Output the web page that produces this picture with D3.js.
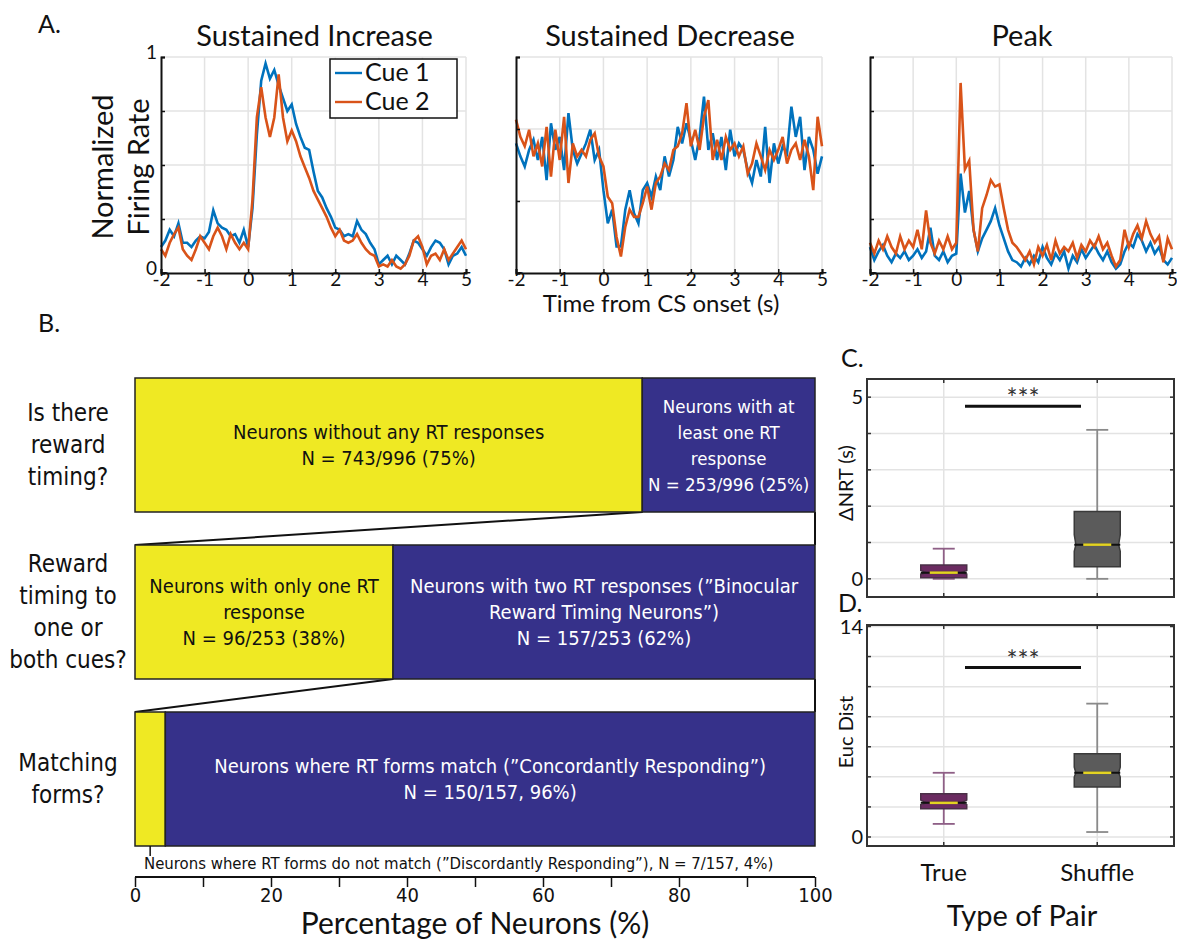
<!DOCTYPE html>
<html lang="en">
<head>
  <meta charset="UTF-8">
  <title>RT neurons figure</title>
  <script src="https://d3js.org/d3.v7.min.js"></script>
  <style>
    body { margin: 0; background: #fff; }
    svg text { font-family: Lato, "Open Sans", sans-serif; fill: #111; }
    svg text.narrow { font-family: "Liberation Sans Narrow", "DejaVu Sans Condensed", sans-serif; }
  </style>
</head>
<body>
<svg width="1177" height="939"></svg>
<script>
// ---------- data ----------
var times = d3.range(-2, 5.001, 0.1);
var xTicksA = [-2, -1, 0, 1, 2, 3, 4, 5];
var seriesNames = ["Cue 1", "Cue 2"];
var plotTitles = ["Sustained Increase", "Sustained Decrease", "Peak"];

var incCue1 = [0.12,0.15,0.20,0.17,0.23,0.14,0.14,0.12,0.15,0.17,0.16,0.19,0.29,0.23,0.21,0.20,0.17,0.18,0.14,0.20,
  0.12,0.30,0.64,0.89,0.97,0.90,0.94,0.87,0.81,0.75,0.78,0.69,0.63,0.58,0.57,0.47,0.38,0.35,0.30,0.26,
  0.21,0.20,0.17,0.18,0.17,0.24,0.20,0.18,0.14,0.11,0.04,0.06,0.08,0.04,0.08,0.06,0.04,0.09,0.15,0.14,
  0.11,0.08,0.12,0.15,0.14,0.11,0.04,0.08,0.09,0.12,0.08];
var incCue2 = [0.11,0.08,0.14,0.18,0.21,0.11,0.08,0.06,0.11,0.17,0.14,0.11,0.17,0.21,0.17,0.11,0.18,0.14,0.11,0.14,
  0.11,0.34,0.72,0.86,0.72,0.63,0.72,0.92,0.72,0.61,0.66,0.61,0.54,0.49,0.44,0.38,0.34,0.30,0.26,0.21,
  0.17,0.20,0.15,0.14,0.15,0.18,0.14,0.11,0.09,0.08,0.03,0.04,0.03,0.06,0.03,0.02,0.04,0.08,0.15,0.17,
  0.12,0.04,0.08,0.09,0.06,0.11,0.06,0.09,0.12,0.15,0.11];

var decCue1 = [1.80,1.62,1.48,1.71,1.85,1.57,1.89,1.29,2.08,1.71,1.89,1.43,2.22,1.71,1.52,1.66,1.80,1.99,1.57,1.71,
  1.15,0.69,0.88,0.37,0.37,0.88,1.15,0.83,0.69,1.15,1.25,1.06,1.34,1.15,1.62,1.34,1.57,2.03,1.80,2.08,
  1.85,1.57,1.89,2.45,1.71,1.94,1.57,1.89,1.43,1.99,1.62,1.80,1.71,1.43,1.25,1.57,1.34,2.03,1.25,1.80,
  1.52,1.76,1.66,2.31,1.89,2.17,1.43,1.89,1.71,1.38,1.62];
var decCue2 = [2.13,1.89,1.76,1.99,1.62,1.80,1.48,2.03,1.34,1.99,1.57,2.17,1.25,1.80,1.62,1.71,1.62,1.85,1.94,1.62,
  1.48,1.06,0.97,0.50,0.23,0.64,0.88,0.78,0.78,0.97,1.20,0.88,1.25,1.34,1.52,1.43,1.71,1.76,1.94,2.36,
  1.76,1.99,1.71,2.17,2.40,1.57,1.85,1.57,1.89,1.71,1.80,1.62,1.76,1.38,1.52,1.80,1.62,1.43,1.71,1.57,
  1.71,1.89,1.52,1.71,1.80,1.57,1.85,1.62,1.15,2.17,1.76];

var peakCue1 = [0.12,0.06,0.10,0.13,0.08,0.05,0.09,0.07,0.10,0.06,0.08,0.11,0.07,0.10,0.21,0.08,0.06,0.10,0.05,0.08,
  0.09,0.46,0.28,0.38,0.20,0.10,0.16,0.20,0.24,0.30,0.22,0.16,0.10,0.06,0.05,0.03,0.07,0.04,0.08,0.05,
  0.12,0.07,0.04,0.09,0.06,0.10,0.02,0.08,0.05,0.11,0.07,0.10,0.13,0.09,0.06,0.10,0.05,0.02,0.04,0.10,
  0.14,0.12,0.18,0.15,0.10,0.14,0.09,0.12,0.06,0.04,0.07];
var peakCue2 = [0.14,0.09,0.15,0.11,0.17,0.12,0.09,0.17,0.11,0.15,0.12,0.20,0.11,0.29,0.14,0.09,0.15,0.11,0.17,0.11,
  0.14,0.88,0.48,0.52,0.20,0.10,0.30,0.36,0.43,0.40,0.41,0.30,0.20,0.14,0.12,0.09,0.06,0.10,0.04,0.12,
  0.08,0.13,0.06,0.15,0.09,0.12,0.10,0.14,0.07,0.13,0.10,0.15,0.12,0.17,0.11,0.14,0.08,0.03,0.06,0.20,
  0.12,0.18,0.22,0.16,0.24,0.18,0.14,0.17,0.05,0.16,0.11];

// panel B
var rowLabels = [["Is there", "reward", "timing?"], ["Reward", "timing to", "one or", "both cues?"], ["Matching", "forms?"]];
var yellowPct = [743 / 996 * 100, 96 / 253 * 100, 7 / 157 * 100];
var yellowText = [["Neurons without any RT responses", "N = 743/996 (75%)"], ["Neurons with only one RT", "response", "N = 96/253 (38%)"], []];
var blueText = [["Neurons with at", "least one RT", "response", "N = 253/996 (25%)"],
  ["Neurons with two RT responses (\u201DBinocular", "Reward Timing Neurons\u201D)", "N = 157/253 (62%)"],
  ["Neurons where RT forms match (\u201DConcordantly Responding\u201D)", "N = 150/157, 96%)"]];
var discordantNote = "Neurons where RT forms do not match (\u201DDiscordantly Responding\u201D), N = 7/157, 4%)";
var pctTicks = [0, 20, 40, 60, 80, 100];

// panels C and D (box stats: whiskerLo, q1, median, q3, whiskerHi)
var pairTypes = ["True", "Shuffle"];
var nrtBoxes = [[0, 0.03, 0.17, 0.38, 0.83], [0, 0.33, 0.94, 1.85, 4.1]];
var eucBoxes = [[0.87, 1.87, 2.27, 2.87, 4.27], [0.33, 3.33, 4.27, 5.53, 8.87]];
var nrtSig = 4.75, eucSig = 11.27;

// ---------- drawing ----------
var svg = d3.select("svg");
var blue = "#0072BD", orange = "#D95319", grid = "#e3e3e3";

svg.append("text").attr("x", 38).attr("y", 33).attr("font-size", 25).text("A.");
svg.append("text").attr("x", 38).attr("y", 332).attr("font-size", 25).text("B.");
svg.append("text").attr("x", 841).attr("y", 367).attr("font-size", 25).text("C.");
svg.append("text").attr("x", 838).attr("y", 612).attr("font-size", 25).text("D.");

// ----- panel A -----
var aPlots = [
  { left: 161, right: 466, dom: [0, 1], yt: [0, 0.25, 0.5, 0.75, 1], d1: incCue1, d2: incCue2, labels: true },
  { left: 516, right: 822, dom: [0, 3], yt: [0, 1, 2, 3], d1: decCue1, d2: decCue2, labels: false },
  { left: 870, right: 1172, dom: [0, 1], yt: [0, 0.25, 0.5, 0.75, 1], d1: peakCue1, d2: peakCue2, labels: false }
];
var aTop = 57, aBottom = 273;

aPlots.forEach(function(p, i) {
  var x = d3.scaleLinear().domain([-2, 5]).range([p.left, p.right]);
  var y = d3.scaleLinear().domain(p.dom).range([aBottom, aTop]);
  var g = svg.append("g");

  g.selectAll(".hg").data(p.yt.slice(1)).enter().append("line")
    .attr("x1", p.left).attr("x2", p.right)
    .attr("y1", function(d) { return y(d); }).attr("y2", function(d) { return y(d); })
    .attr("stroke", grid).attr("stroke-width", 1.5);
  g.selectAll(".vg").data(xTicksA.slice(1)).enter().append("line")
    .attr("x1", function(d) { return x(d); }).attr("x2", function(d) { return x(d); })
    .attr("y1", aTop).attr("y2", aBottom)
    .attr("stroke", grid).attr("stroke-width", 1.5);

  var line = d3.line()
    .x(function(d, j) { return x(times[j]); })
    .y(function(d) { return y(d); });
  g.append("path").datum(p.d1).attr("d", line).attr("fill", "none").attr("stroke", blue).attr("stroke-width", 2.6);
  g.append("path").datum(p.d2).attr("d", line).attr("fill", "none").attr("stroke", orange).attr("stroke-width", 2.6);

  var xa = g.append("g").attr("transform", "translate(0," + aBottom + ")")
    .call(d3.axisBottom(x).tickValues(xTicksA).tickSize(-4).tickPadding(3)
      .tickFormat(function(d) { return String(d); }));
  var ya = g.append("g").attr("transform", "translate(" + p.left + ",0)")
    .call(d3.axisLeft(y).tickValues(p.yt).tickSize(-4).tickPadding(4)
      .tickFormat(function(d) { return p.labels && (d === 0 || d === 1) ? d : ""; }));
  [xa, ya].forEach(function(a) {
    a.select(".domain").attr("stroke", "#111").attr("stroke-width", 2);
    a.selectAll(".tick line").attr("stroke", "#111").attr("stroke-width", 1.5);
    a.selectAll("text").attr("font-size", 19).attr("font-family", "Lato, sans-serif").attr("fill", "#111");
  });
  xa.selectAll("text").attr("dy", "0.55em");
  ya.selectAll("text").attr("dy", "0.1em");

  svg.append("text").attr("x", (p.left + p.right) / 2 + 1).attr("y", 46)
    .attr("text-anchor", "middle").attr("font-size", 29).text(plotTitles[i]);
});

svg.append("text").attr("transform", "translate(113,167) rotate(-90)")
  .attr("text-anchor", "middle").attr("font-size", 29).text("Normalized");
svg.append("text").attr("transform", "translate(149,167) rotate(-90)")
  .attr("text-anchor", "middle").attr("font-size", 29).text("Firing Rate");
svg.append("text").attr("x", 661).attr("y", 312)
  .attr("text-anchor", "middle").attr("font-size", 24).text("Time from CS onset (s)");

// legend
var leg = svg.append("g");
leg.append("rect").attr("x", 330).attr("y", 59).attr("width", 127).attr("height", 59)
  .attr("fill", "#fff").attr("stroke", "#111").attr("stroke-width", 1.5);
seriesNames.forEach(function(n, i) {
  var ly = 73 + i * 29;
  leg.append("line").attr("x1", 335).attr("x2", 362).attr("y1", ly).attr("y2", ly)
    .attr("stroke", i === 0 ? blue : orange).attr("stroke-width", 2.4);
  leg.append("text").attr("x", 365).attr("y", ly + 8).attr("font-size", 25).text(n);
});

// ----- panel B -----
var px = d3.scaleLinear().domain([0, 100]).range([135, 815]);
var barTops = [378, 545, 712], barH = 134;
var yellow = "#EFE923", navy = "#36318A";
var gb = svg.append("g");

// connector lines between bars
[0, 1].forEach(function(i) {
  gb.append("line").attr("x1", px(yellowPct[i])).attr("y1", barTops[i] + barH)
    .attr("x2", px(0)).attr("y2", barTops[i + 1]).attr("stroke", "#111").attr("stroke-width", 2);
  gb.append("line").attr("x1", px(100)).attr("y1", barTops[i] + barH)
    .attr("x2", px(100)).attr("y2", barTops[i + 1]).attr("stroke", "#111").attr("stroke-width", 2);
});

barTops.forEach(function(t, i) {
  gb.append("rect").attr("x", px(0)).attr("y", t).attr("width", px(yellowPct[i]) - px(0)).attr("height", barH)
    .attr("fill", yellow).attr("stroke", "#222").attr("stroke-width", 1.5);
  gb.append("rect").attr("x", px(yellowPct[i])).attr("y", t).attr("width", px(100) - px(yellowPct[i])).attr("height", barH)
    .attr("fill", navy).attr("stroke", "#222").attr("stroke-width", 1.5);

  var lines = rowLabels[i];
  lines.forEach(function(s, k) {
    gb.append("text").attr("class", "narrow").attr("x", 68)
      .attr("y", t + barH / 2 + (k - (lines.length - 1) / 2) * 32 + 8)
      .attr("text-anchor", "middle").attr("font-size", 24).text(s);
  });
  yellowText[i].forEach(function(s, k) {
    gb.append("text").attr("class", "narrow").attr("x", (px(0) + px(yellowPct[i])) / 2)
      .attr("y", t + barH / 2 + (k - (yellowText[i].length - 1) / 2) * 26 + 7)
      .attr("text-anchor", "middle").attr("font-size", 20).text(s);
  });
  blueText[i].forEach(function(s, k) {
    gb.append("text").attr("class", "narrow").attr("x", (px(yellowPct[i]) + px(100)) / 2)
      .attr("y", t + barH / 2 + (k - (blueText[i].length - 1) / 2) * 26 + 7)
      .attr("text-anchor", "middle").attr("font-size", i === 0 ? 18.5 : 20).style("fill", "#fff").text(s);
  });
});

gb.append("line").attr("x1", px(yellowPct[2] / 2)).attr("x2", px(yellowPct[2] / 2))
  .attr("y1", barTops[2] + barH).attr("y2", barTops[2] + barH + 10).attr("stroke", "#111").attr("stroke-width", 1.5);
gb.append("text").attr("class", "narrow").attr("x", 144).attr("y", 869).attr("font-size", 16.6).text(discordantNote);

var pa = gb.append("g").attr("transform", "translate(0,877)")
  .call(d3.axisBottom(px).tickValues(d3.range(0, 101, 10)).tickSize(10).tickPadding(1)
    .tickFormat(function(d) { return pctTicks.indexOf(d) >= 0 ? d : ""; }));
pa.select(".domain").attr("stroke", "#111").attr("stroke-width", 2).attr("d", "M" + px(0) + ",0H" + px(100));
pa.selectAll(".tick line").attr("stroke", "#111").attr("stroke-width", 1.5);
pa.selectAll("text").attr("class", "narrow").attr("font-size", 20).attr("fill", "#111");
gb.append("text").attr("x", 475).attr("y", 934).attr("text-anchor", "middle").attr("font-size", 30)
  .text("Percentage of Neurons (%)");

// ----- panels C and D -----
function boxPanel(top, bottom, dom, ticks, labelTicks, boxes, sig, ylabel, ylabelY) {
  var left = 867, right = 1174;
  var x = d3.scaleLinear().domain([0.5, 2.5]).range([left, right]);
  var y = d3.scaleLinear().domain(dom).range([bottom, top]);
  var g = svg.append("g");
  g.selectAll(".hg").data(ticks).enter().append("line")
    .attr("x1", left).attr("x2", right)
    .attr("y1", function(d) { return y(d); }).attr("y2", function(d) { return y(d); })
    .attr("stroke", grid).attr("stroke-width", 1.5);
  g.selectAll(".vg").data([1, 2]).enter().append("line")
    .attr("x1", function(d) { return x(d); }).attr("x2", function(d) { return x(d); })
    .attr("y1", top).attr("y2", bottom).attr("stroke", grid).attr("stroke-width", 1.5);

  var fills = ["#6B2B61", "#5B5B5B"], whisk = ["#8E5F86", "#8a8a8a"], edges = ["#4a3047", "#3a3a3a"];
  boxes.forEach(function(b, i) {
    var cx = x(i + 1), hw = 23, cap = 11;
    g.append("line").attr("x1", cx).attr("x2", cx).attr("y1", y(b[0])).attr("y2", y(b[4]))
      .attr("stroke", whisk[i]).attr("stroke-width", 1.8);
    [b[0], b[4]].forEach(function(v) {
      g.append("line").attr("x1", cx - cap).attr("x2", cx + cap).attr("y1", y(v)).attr("y2", y(v))
        .attr("stroke", whisk[i]).attr("stroke-width", 1.8);
    });
    // small notch around the median
    var nLo = y(b[2] - (b[2] - b[1]) * 0.3), nHi = y(b[2] + (b[3] - b[2]) * 0.3), ni = hw * (i === 0 ? 0.75 : 0.93);
    var pts = [[cx - hw, y(b[1])], [cx + hw, y(b[1])], [cx + hw, nLo], [cx + ni, y(b[2])], [cx + hw, nHi],
      [cx + hw, y(b[3])], [cx - hw, y(b[3])], [cx - hw, nHi], [cx - ni, y(b[2])], [cx - hw, nLo]];
    g.append("path").attr("d", "M" + pts.join("L") + "Z")
      .attr("fill", fills[i]).attr("stroke", edges[i]).attr("stroke-width", 1.5);
    g.append("line").attr("x1", cx - hw).attr("x2", cx + hw).attr("y1", y(b[2])).attr("y2", y(b[2]))
      .attr("stroke", "#111").attr("stroke-width", 2);
    g.append("line").attr("x1", cx - 14).attr("x2", cx + 14).attr("y1", y(b[2])).attr("y2", y(b[2]))
      .attr("stroke", "#E3D322").attr("stroke-width", 2.5);
  });

  g.append("line").attr("x1", 965).attr("x2", 1081).attr("y1", y(sig)).attr("y2", y(sig))
    .attr("stroke", "#111").attr("stroke-width", 3);
  g.append("text").attr("x", 1023).attr("y", y(sig) + 2).attr("text-anchor", "middle")
    .attr("font-family", "DejaVu Sans, sans-serif").attr("font-size", 26).style("fill", "#333").text("***");

  g.append("rect").attr("x", left).attr("y", top).attr("width", right - left).attr("height", bottom - top)
    .attr("fill", "none").attr("stroke", "#333").attr("stroke-width", 2);
  ticks.forEach(function(t) {
    g.append("line").attr("x1", left).attr("x2", left + 4).attr("y1", y(t)).attr("y2", y(t)).attr("stroke", "#333").attr("stroke-width", 1.5);
    g.append("line").attr("x1", right - 4).attr("x2", right).attr("y1", y(t)).attr("y2", y(t)).attr("stroke", "#333").attr("stroke-width", 1.5);
  });
  [1, 2].forEach(function(c) {
    g.append("line").attr("x1", x(c)).attr("x2", x(c)).attr("y1", top).attr("y2", top + 4).attr("stroke", "#333").attr("stroke-width", 1.5);
    g.append("line").attr("x1", x(c)).attr("x2", x(c)).attr("y1", bottom - 4).attr("y2", bottom).attr("stroke", "#333").attr("stroke-width", 1.5);
  });
  labelTicks.forEach(function(t) {
    g.append("text").attr("x", left - 4).attr("y", y(t) + 7).attr("text-anchor", "end").attr("font-size", 20).text(t);
  });
  g.append("text").attr("transform", "translate(853," + ylabelY + ") rotate(-90)")
    .attr("text-anchor", "middle").attr("font-size", 20).text(ylabel);
  return x;
}

boxPanel(379, 597, [-0.5, 5.5], [0, 1, 2, 3, 4, 5], [0, 5], nrtBoxes, nrtSig, "\u0394NRT (s)", 483);
var cx = boxPanel(625, 846, [-0.6, 14.1], [0, 2, 4, 6, 8, 10, 12, 14], [0, 14], eucBoxes, eucSig, "Euc Dist", 732);

pairTypes.forEach(function(p, i) {
  svg.append("text").attr("x", cx(i + 1)).attr("y", 881).attr("text-anchor", "middle").attr("font-size", 24).text(p);
});
svg.append("text").attr("x", 1022).attr("y", 926).attr("text-anchor", "middle").attr("font-size", 29).text("Type of Pair");
</script>
</body>
</html>
